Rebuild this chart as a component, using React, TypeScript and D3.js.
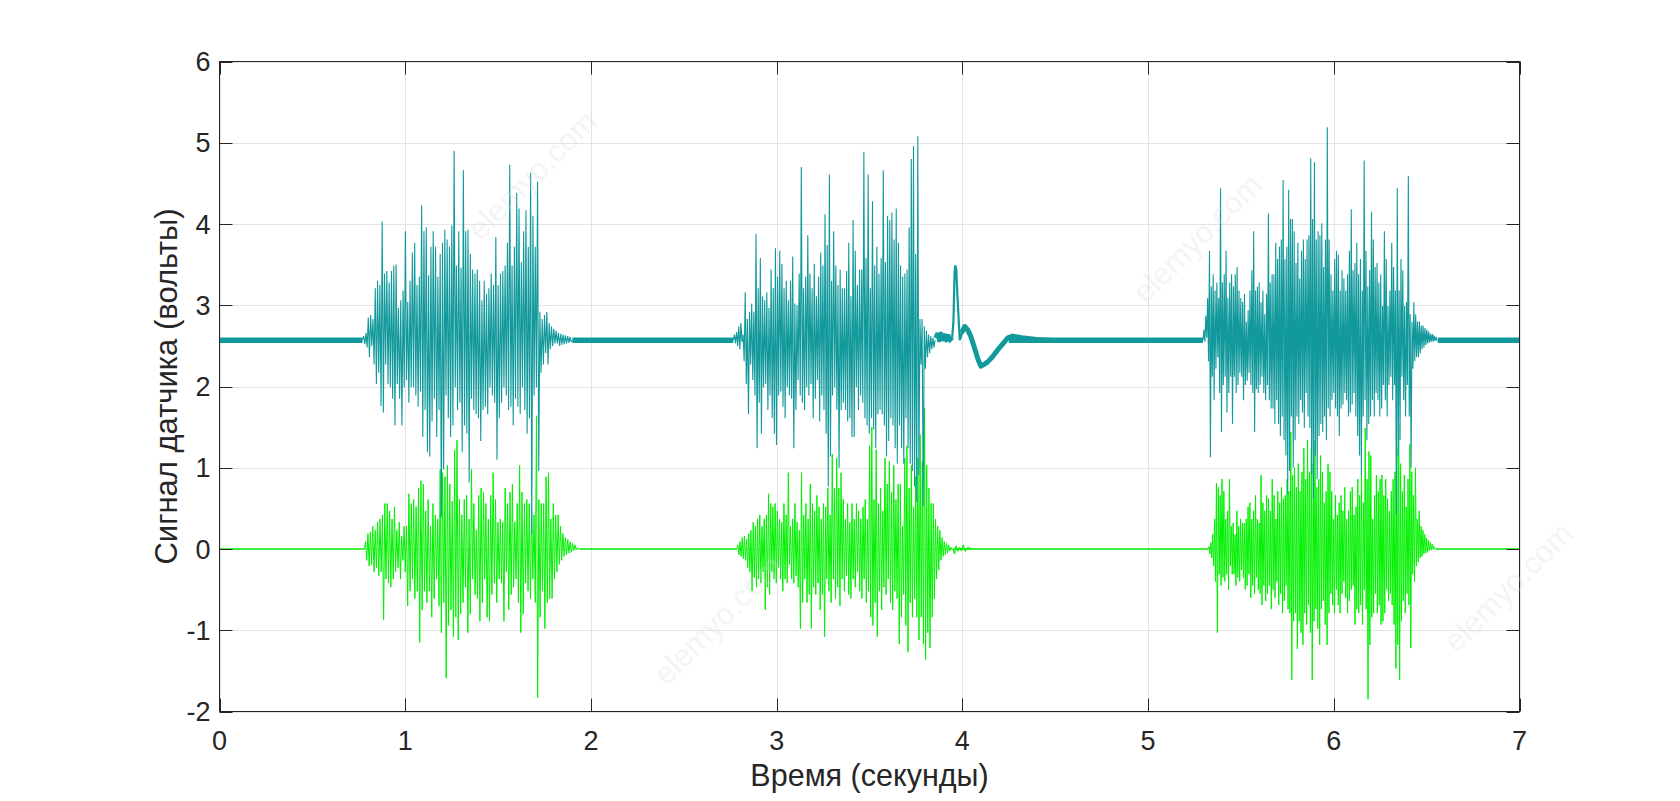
import React from "react";
import * as d3 from "d3";

// ---------- data (volts vs seconds) ----------
const xTicks = [0, 1, 2, 3, 4, 5, 6, 7];
const yTicks = [-2, -1, 0, 1, 2, 3, 4, 5, 6];

const tealRest = 2.57;
const greenRest = 0;

// resting (quiet) stretches of the raw signal, seconds
const tealRestSpans = [[0, 0.77], [1.9, 2.767], [4.25, 5.296], [6.56, 7]];
const greenRestSpans = [[0, 0.78], [1.94, 2.785], [3.95, 5.323], [6.55, 7]];

// burst 1 (raw, teal)
const b1TealSpan = [0.77, 1.9];
const b1TealPeaks = [2.62, 2.66, 2.85, 2.88, 2.83, 3.21, 3.30, 3.25, 4.03, 3.39, 3.42, 3.28, 3.42, 3.49, 3.50, 2.97, 3.06, 3.18, 3.91, 3.04, 3.30, 3.65, 3.77, 3.25, 3.35, 4.23, 3.91, 3.96, 3.37, 3.72, 3.91, 3.72, 3.35, 3.63, 3.77, 3.93, 3.81, 3.72, 3.98, 4.90, 3.49, 3.91, 3.46, 4.66, 3.91, 3.93, 3.63, 3.44, 3.39, 3.44, 3.30, 3.06, 3.30, 3.14, 3.21, 3.39, 3.25, 3.84, 3.25, 3.39, 3.42, 3.49, 3.77, 4.73, 3.49, 3.72, 4.38, 4.19, 3.53, 3.91, 4.17, 3.72, 4.63, 4.10, 3.72, 4.52, 2.92, 2.83, 2.88, 2.92, 2.78, 2.74, 2.71, 2.69, 2.66, 2.65, 2.64, 2.63, 2.62, 2.61];
const b1TealTroughs = [2.52, 2.48, 2.36, 2.50, 2.27, 2.03, 2.17, 1.76, 1.68, 2.27, 2.03, 1.99, 1.85, 1.52, 2.03, 1.85, 1.52, 1.99, 2.08, 1.80, 1.99, 1.99, 1.89, 1.75, 1.94, 1.38, 1.71, 1.19, 1.14, 1.57, 1.85, 1.38, 1.71, 0.39, 0.98, 1.89, 1.61, 1.38, 1.52, 1.99, 1.71, 1.80, 1.19, 1.52, 1.42, 0.82, 1.85, 1.71, 1.66, 1.61, 1.33, 1.71, 1.75, 1.66, 1.99, 1.89, 1.80, 1.10, 1.61, 1.80, 1.99, 1.89, 1.71, 1.75, 1.52, 1.85, 1.75, 1.66, 1.99, 1.71, 1.42, 1.61, 0.18, 1.89, 1.99, 0.96, 2.17, 2.27, 2.41, 2.27, 2.46, 2.50, 2.53, 2.53, 2.50, 2.51, 2.52, 2.53, 2.54, 2.55];

// burst 1 (filtered, green)
const b1GreenSpan = [0.78, 1.94];
const b1GreenPeaks = [0.09, 0.19, 0.21, 0.28, 0.23, 0.33, 0.37, 0.42, 0.56, 0.56, 0.47, 0.37, 0.52, 0.23, 0.33, 0.16, 0.28, 0.28, 0.68, 0.56, 0.61, 0.52, 0.75, 0.84, 0.80, 0.47, 0.61, 0.28, 0.56, 0.42, 0.37, 0.98, 0.94, 0.89, 1.03, 0.80, 0.59, 1.22, 1.34, 0.61, 0.42, 0.61, 0.66, 0.37, 0.98, 0.56, 0.23, 0.66, 0.75, 0.70, 0.56, 0.37, 0.66, 0.94, 0.61, 0.33, 0.37, 0.33, 0.75, 0.56, 0.70, 0.80, 0.33, 0.56, 1.03, 0.70, 0.56, 0.61, 0.56, 0.47, 0.42, 1.64, 0.61, 0.56, 0.56, 0.89, 0.94, 0.37, 0.56, 0.42, 0.42, 0.28, 0.19, 0.14, 0.12, 0.09, 0.07, 0.05, 0.02];
const b1GreenTroughs = [-0.14, -0.21, -0.19, -0.28, -0.23, -0.33, -0.28, -0.87, -0.37, -0.42, -0.47, -0.37, -0.28, -0.23, -0.37, -0.14, -0.28, -0.70, -0.52, -0.37, -0.61, -0.52, -1.15, -0.75, -0.52, -0.66, -0.52, -0.84, -0.61, -0.37, -0.70, -1.03, -0.66, -1.59, -0.94, -0.75, -1.08, -0.84, -1.12, -0.80, -0.66, -0.47, -1.03, -0.80, -0.37, -0.56, -0.61, -0.89, -0.66, -0.37, -0.84, -0.89, -0.56, -0.42, -0.66, -0.37, -0.42, -0.89, -0.28, -0.75, -0.56, -0.47, -0.37, -0.66, -1.03, -0.80, -0.42, -0.52, -0.61, -0.37, -0.66, -1.83, -0.84, -0.52, -0.98, -0.66, -0.61, -0.61, -0.37, -0.28, -0.19, -0.14, -0.09, -0.07, -0.05, -0.04, -0.02, -0.01, 0];

// burst 2 (raw, teal)
const b2TealSpan = [2.767, 3.853];
const b2TealPeaks = [2.64, 2.67, 2.74, 2.78, 2.64, 3.16, 2.83, 2.92, 3.02, 2.92, 3.88, 3.21, 3.58, 3.11, 3.06, 3.16, 2.97, 3.44, 3.21, 3.70, 3.35, 3.67, 3.51, 3.21, 3.30, 3.06, 3.30, 3.60, 3.02, 3.00, 3.39, 4.70, 3.21, 3.35, 3.86, 3.39, 3.21, 3.51, 3.11, 3.35, 3.65, 3.49, 4.12, 3.74, 4.61, 3.30, 3.91, 3.49, 3.25, 3.44, 3.21, 3.21, 3.42, 3.77, 3.11, 4.05, 3.67, 3.25, 3.44, 3.44, 4.89, 3.58, 4.61, 3.21, 4.28, 3.49, 3.72, 3.39, 3.58, 4.66, 3.53, 4.10, 4.05, 4.14, 3.81, 4.19, 3.77, 3.49, 3.35, 3.39, 3.44, 3.96, 4.80, 4.96, 3.63, 5.08, 2.83, 2.83, 2.74, 2.69, 2.64, 2.62, 2.60];
const b2TealTroughs = [2.53, 2.50, 2.46, 2.55, 2.31, 2.03, 1.66, 2.27, 2.08, 1.89, 1.24, 1.80, 1.42, 1.99, 2.03, 1.71, 1.89, 1.61, 1.42, 1.28, 1.89, 1.94, 1.75, 1.61, 1.99, 1.89, 1.85, 1.24, 1.71, 2.08, 1.89, 1.80, 1.71, 1.99, 1.89, 2.03, 1.61, 1.85, 2.08, 1.57, 1.89, 1.71, 1.42, 0.77, 1.14, 1.89, 1.99, 1.71, 1.00, 1.71, 1.80, 1.71, 1.57, 1.61, 1.38, 1.38, 1.99, 1.71, 1.89, 1.80, 1.61, 1.52, 1.42, 1.61, 1.47, 1.24, 1.66, 1.71, 1.66, 1.52, 1.14, 1.33, 1.61, 1.52, 1.24, 1.05, 1.52, 1.24, 1.05, 1.61, 1.24, 1.05, 0.96, 0.77, 0.58, 0.91, 2.27, 0.53, 2.22, 2.36, 2.41, 2.46, 2.48];

// burst 2 (filtered, green)
const b2GreenSpan = [2.785, 3.95];
const b2GreenPeaks = [0.05, 0.09, 0.14, 0.16, 0.12, 0.19, 0.23, 0.33, 0.28, 0.37, 0.42, 0.28, 0.37, 0.42, 0.68, 0.56, 0.52, 0.56, 0.47, 0.37, 0.33, 0.56, 0.42, 0.94, 0.28, 0.37, 0.56, 0.33, 0.23, 0.94, 0.42, 0.56, 0.37, 0.80, 0.56, 0.47, 0.66, 0.52, 0.37, 0.56, 0.52, 0.75, 0.42, 1.17, 0.75, 1.12, 0.75, 0.94, 0.61, 0.37, 0.56, 0.33, 0.56, 0.37, 0.56, 0.47, 0.37, 0.52, 0.61, 0.37, 1.27, 1.50, 0.61, 1.22, 0.56, 0.75, 0.47, 1.12, 0.80, 1.08, 0.70, 1.03, 0.61, 0.80, 0.80, 0.28, 1.12, 1.27, 0.75, 1.03, 0.52, 0.89, 1.12, 1.41, 1.08, 1.73, 1.03, 0.75, 0.56, 0.56, 0.37, 0.28, 0.23, 0.14, 0.09, 0.07, 0.05, 0.02];
const b2GreenTroughs = [-0.07, -0.09, -0.12, -0.14, -0.23, -0.28, -0.52, -0.35, -0.47, -0.37, -0.42, -0.28, -0.75, -0.47, -0.56, -0.28, -0.37, -0.42, -0.23, -0.37, -0.52, -0.37, -0.42, -0.19, -0.37, -0.42, -0.33, -0.47, -0.98, -0.66, -0.37, -0.66, -0.56, -0.98, -0.47, -0.56, -0.42, -0.75, -0.56, -1.08, -0.37, -0.52, -0.66, -0.37, -0.61, -0.47, -0.70, -0.37, -0.52, -0.33, -0.56, -0.61, -0.37, -0.47, -0.28, -0.52, -0.61, -0.37, -0.66, -0.52, -0.84, -0.94, -0.66, -1.08, -0.52, -0.75, -0.47, -0.56, -0.37, -0.66, -0.75, -0.52, -0.61, -1.17, -0.84, -0.56, -0.94, -1.27, -0.66, -0.84, -0.61, -0.84, -1.12, -0.84, -1.17, -1.36, -1.03, -1.22, -0.84, -0.61, -0.37, -0.26, -0.14, -0.09, -0.07, -0.05, -0.02, -0.01, 0];

// movement artefact after burst 2 (raw, teal): [seconds, volts]
const tealTailNoise = [[3.853, 2.60], [3.865, 2.66], [3.875, 2.55], [3.885, 2.67], [3.895, 2.56], [3.905, 2.65], [3.915, 2.55], [3.925, 2.64], [3.935, 2.57], [3.948, 2.60]];
const tealSpike = [[3.945, 2.60], [3.952, 2.80], [3.958, 3.40], [3.962, 3.49], [3.967, 3.44], [3.975, 3.05], [3.986, 2.57], [3.998, 2.66]];
const tealDip = [[3.996, 2.66], [4.013, 2.74], [4.028, 2.70], [4.045, 2.62], [4.066, 2.47], [4.085, 2.33], [4.10, 2.25], [4.115, 2.27], [4.135, 2.30], [4.16, 2.36], [4.19, 2.45], [4.22, 2.53], [4.245, 2.60], [4.27, 2.62], [4.32, 2.60], [4.40, 2.58], [4.47, 2.57]];
const greenArtefact = [[3.95, 0], [3.958, -0.06], [3.966, 0.04], [3.975, -0.03], [3.985, 0.02], [3.995, -0.02], [4.005, 0.05], [4.015, -0.03], [4.03, 0.02], [4.05, 0]];

// burst 3 (raw, teal)
const b3TealSpan = [5.296, 6.56];
const b3TealPeaks = [2.70, 2.87, 3.09, 3.67, 3.23, 3.38, 3.18, 3.28, 3.09, 4.44, 3.28, 3.38, 3.67, 3.09, 3.28, 3.38, 3.23, 3.38, 3.47, 3.18, 3.09, 3.04, 3.14, 2.80, 2.94, 3.18, 3.43, 3.91, 3.18, 3.23, 3.28, 3.04, 3.18, 2.89, 3.14, 4.13, 3.28, 3.38, 3.38, 3.77, 3.57, 3.72, 3.81, 4.54, 3.57, 3.72, 4.42, 4.06, 4.06, 3.91, 3.52, 3.77, 3.33, 3.67, 3.81, 3.57, 3.81, 3.86, 4.81, 4.06, 4.76, 3.81, 3.91, 3.86, 4.01, 3.47, 3.81, 5.19, 3.81, 3.38, 3.18, 3.57, 3.67, 3.62, 3.18, 3.43, 3.33, 3.18, 3.38, 3.67, 4.18, 3.43, 3.52, 3.77, 3.38, 3.57, 3.18, 4.78, 3.67, 3.23, 3.43, 4.15, 3.81, 3.47, 3.52, 3.28, 3.38, 2.99, 3.91, 3.57, 2.99, 3.18, 3.77, 3.47, 3.18, 4.44, 3.18, 3.57, 3.43, 2.99, 3.04, 4.59, 2.89, 2.80, 3.04, 2.89, 2.80, 2.80, 2.75, 2.75, 2.72, 2.70, 2.68, 2.65, 2.65, 2.63, 2.61];
const b3TealTroughs = [2.55, 2.60, 2.31, 1.13, 2.12, 1.83, 2.22, 2.36, 1.92, 1.44, 2.02, 2.12, 1.68, 1.92, 2.12, 1.54, 2.12, 1.92, 2.02, 2.17, 2.12, 1.83, 2.02, 2.07, 2.17, 2.02, 1.92, 1.44, 1.97, 1.92, 2.02, 2.12, 1.92, 1.83, 2.02, 1.83, 1.73, 1.73, 1.54, 1.83, 1.54, 1.39, 1.63, 1.34, 1.15, 0.67, 0.96, 1.63, 1.00, 1.34, 1.63, 1.54, 1.83, 1.68, 1.49, 1.92, 1.63, 1.49, 0.91, 0.62, 1.15, 0.86, 1.39, 1.54, 1.44, 1.63, 1.34, 1.73, 1.63, 1.83, 1.92, 1.73, 1.63, 1.39, 1.73, 1.78, 1.92, 1.83, 1.63, 1.68, 1.78, 1.92, 1.63, 1.39, 1.15, 0.91, 1.63, 1.83, 1.34, 1.54, 1.63, 1.83, 1.63, 1.92, 1.83, 1.63, 1.73, 2.02, 1.83, 1.63, 2.02, 2.12, 1.83, 2.02, 0.42, 1.15, 1.34, 2.12, 1.83, 1.63, 2.02, 1.63, 1.00, 2.22, 2.31, 2.36, 2.36, 2.41, 2.46, 2.48, 2.51, 2.53, 2.54, 2.55, 2.55, 2.56, 2.57];

// burst 3 (filtered, green)
const b3GreenSpan = [5.323, 6.55];
const b3GreenPeaks = [0.03, 0.08, 0.18, 0.37, 0.81, 0.76, 0.66, 0.86, 0.71, 0.37, 0.47, 0.86, 0.28, 0.32, 0.18, 0.47, 0.28, 0.37, 0.32, 0.32, 0.37, 0.52, 0.57, 0.37, 0.47, 0.66, 0.37, 0.32, 0.91, 0.57, 0.47, 0.66, 0.62, 0.47, 0.86, 0.66, 0.37, 0.71, 0.57, 0.76, 0.62, 0.66, 0.86, 0.71, 1.44, 0.91, 1.00, 0.76, 1.05, 0.71, 0.95, 1.24, 0.86, 1.34, 0.95, 1.24, 1.05, 1.34, 0.76, 0.86, 1.15, 0.95, 0.57, 0.71, 1.05, 0.95, 0.71, 0.37, 0.66, 0.42, 0.57, 0.66, 0.47, 0.76, 0.37, 0.47, 0.71, 0.76, 0.42, 0.52, 0.86, 0.66, 0.91, 0.57, 1.49, 0.86, 1.20, 1.15, 0.37, 0.66, 0.91, 0.71, 0.86, 0.91, 0.66, 0.86, 0.62, 0.47, 0.71, 0.86, 0.95, 1.24, 1.53, 1.05, 0.71, 0.91, 0.52, 0.86, 1.29, 0.95, 0.66, 1.00, 0.37, 0.47, 0.28, 0.23, 0.18, 0.13, 0.11, 0.08, 0.06, 0.03, 0.02];
const b3GreenTroughs = [-0.06, -0.11, -0.21, -0.40, -1.03, -0.31, -0.45, -0.35, -0.40, -0.31, -0.50, -0.21, -0.31, -0.31, -0.45, -0.35, -0.40, -0.26, -0.35, -0.50, -0.45, -0.31, -0.60, -0.45, -0.55, -0.35, -0.50, -0.55, -0.69, -0.45, -0.64, -0.55, -0.45, -0.74, -0.50, -0.60, -0.40, -0.69, -0.55, -0.79, -0.64, -0.45, -0.74, -0.79, -1.61, -0.89, -0.79, -1.23, -0.89, -1.03, -1.18, -0.79, -0.93, -0.69, -1.03, -1.61, -0.89, -0.74, -0.98, -1.18, -0.74, -0.64, -0.93, -1.18, -0.79, -0.55, -0.69, -0.79, -0.50, -0.69, -0.79, -0.55, -0.40, -0.60, -0.79, -0.64, -0.50, -0.45, -0.93, -0.74, -0.79, -0.69, -0.93, -0.50, -0.74, -1.85, -1.18, -0.84, -0.79, -0.55, -0.79, -0.69, -0.93, -0.89, -0.79, -0.50, -0.64, -0.55, -0.69, -0.93, -1.47, -1.18, -1.61, -0.89, -0.64, -0.79, -0.55, -0.69, -1.22, -0.31, -0.40, -0.21, -0.16, -0.11, -0.09, -0.06, -0.05, -0.04, -0.02, -0.01, 0, 0];

const watermarkText = "elemyo.com";
const watermarkSpots = [[532, 175], [718, 620], [1197, 238], [1508, 587]];

const xLabel = "Время (секунды)";
const yLabel = "Сигнал датчика (вольты)";

// ---------- helpers ----------
type Pt = [number, number];

function burstPoints(span: number[], peaks: number[], troughs: number[], rest: number): Pt[] {
  const n = Math.min(peaks.length, troughs.length);
  const [t0, t1] = span;
  const step = (t1 - t0) / (2 * n + 1);
  const pts: Pt[] = [[t0, rest]];
  for (let i = 0; i < n; i++) {
    pts.push([t0 + (2 * i + 1) * step, peaks[i]]);
    pts.push([t0 + (2 * i + 2) * step, troughs[i]]);
  }
  pts.push([t1, rest]);
  return pts;
}

const W = 1680;
const H = 801;
const X0 = 219.5;
const X1 = 1519.5;
const Y0 = 61.5;
const Y1 = 711.5;

const TEAL = "#12999c";
const GREEN = "#00f000";
const AXIS = "#262626";
const GRID = "#e4e4e4";
const FONT = "'Liberation Sans', Arial, Helvetica, sans-serif";

export default function App() {
  const x = d3.scaleLinear().domain([0, 7]).range([X0, X1]);
  const y = d3.scaleLinear().domain([-2, 6]).range([Y1, Y0]);
  const line = d3
    .line<Pt>()
    .x((d) => x(d[0]))
    .y((d) => y(d[1]));

  const tealBursts = [
    burstPoints(b1TealSpan, b1TealPeaks, b1TealTroughs, tealRest),
    burstPoints(b2TealSpan, b2TealPeaks, b2TealTroughs, tealRest),
    burstPoints(b3TealSpan, b3TealPeaks, b3TealTroughs, tealRest),
  ];
  const greenBursts = [
    burstPoints(b1GreenSpan, b1GreenPeaks, b1GreenTroughs, greenRest),
    burstPoints(b2GreenSpan, b2GreenPeaks, b2GreenTroughs, greenRest),
    burstPoints(b3GreenSpan, b3GreenPeaks, b3GreenTroughs, greenRest),
  ];

  const tickLen = 13;

  return (
    <svg
      width={W}
      height={H}
      viewBox={`0 0 ${W} ${H}`}
      style={{ position: "absolute", left: 0, top: 0, background: "#fff" }}
      fontFamily={FONT}
    >
      <rect x={0} y={0} width={W} height={H} fill="#fff" />
      <defs>
        <clipPath id="plotClip">
          <rect x={X0} y={Y0} width={X1 - X0} height={Y1 - Y0} />
        </clipPath>
      </defs>

      {/* grid */}
      <g stroke={GRID} strokeWidth={1}>
        {xTicks.map((t) => (
          <line key={"gx" + t} x1={Math.round(x(t)) + 0.5} x2={Math.round(x(t)) + 0.5} y1={Y0} y2={Y1} />
        ))}
        {yTicks.map((t) => (
          <line key={"gy" + t} x1={X0} x2={X1} y1={Math.round(y(t)) + 0.5} y2={Math.round(y(t)) + 0.5} />
        ))}
      </g>

      <g clipPath="url(#plotClip)" fill="none" strokeLinejoin="miter" strokeMiterlimit={2}>
        {/* filtered signal */}
        {greenRestSpans.map((s, i) => (
          <path key={"gr" + i} d={line([[s[0], greenRest], [s[1], greenRest]]) || ""} stroke={GREEN} strokeWidth={1.4} />
        ))}
        <path d={line(greenArtefact as Pt[]) || ""} stroke={GREEN} strokeWidth={1.1} />
        {greenBursts.map((pts, i) => (
          <path key={"gb" + i} d={line(pts) || ""} stroke={GREEN} strokeWidth={1} />
        ))}

        {/* raw signal */}
        {tealRestSpans.map((s, i) => (
          <path key={"tr" + i} d={line([[s[0], tealRest], [s[1], tealRest]]) || ""} stroke={TEAL} strokeWidth={5.5} />
        ))}
        <path d={line(tealTailNoise as Pt[]) || ""} stroke={TEAL} strokeWidth={3.5} />
        <path d={line(tealSpike as Pt[]) || ""} stroke={TEAL} strokeWidth={2.2} />
        <path d={line(tealDip as Pt[]) || ""} stroke={TEAL} strokeWidth={5} strokeLinejoin="round" />
        {tealBursts.map((pts, i) => (
          <path key={"tb" + i} d={line(pts) || ""} stroke={TEAL} strokeWidth={1.1} />
        ))}
      </g>

      {/* box + ticks */}
      <rect x={X0} y={Y0} width={X1 - X0} height={Y1 - Y0} fill="none" stroke={AXIS} strokeWidth={1} />
      <g stroke={AXIS} strokeWidth={1}>
        {xTicks.map((t) => {
          const px = Math.round(x(t)) + 0.5;
          return (
            <g key={"tx" + t}>
              <line x1={px} x2={px} y1={Y1} y2={Y1 - tickLen} />
              <line x1={px} x2={px} y1={Y0} y2={Y0 + tickLen} />
            </g>
          );
        })}
        {yTicks.map((t) => {
          const py = Math.round(y(t)) + 0.5;
          return (
            <g key={"ty" + t}>
              <line x1={X0} x2={X0 + tickLen} y1={py} y2={py} />
              <line x1={X1} x2={X1 - tickLen} y1={py} y2={py} />
            </g>
          );
        })}
      </g>

      {/* tick labels */}
      <g fill={AXIS} fontSize={27}>
        {xTicks.map((t) => (
          <text key={"lx" + t} x={x(t)} y={Y1 + 38} textAnchor="middle">
            {t}
          </text>
        ))}
        {yTicks.map((t) => (
          <text key={"ly" + t} x={X0 - 9} y={y(t) + 9.5} textAnchor="end">
            {t}
          </text>
        ))}
      </g>

      {/* axis titles */}
      <text x={(X0 + X1) / 2} y={786} textAnchor="middle" fontSize={30.5} fill={AXIS}>
        {xLabel}
      </text>
      <text
        transform={`translate(177, ${(Y0 + Y1) / 2}) rotate(-90)`}
        textAnchor="middle"
        fontSize={31}
        fill={AXIS}
      >
        {yLabel}
      </text>

      {/* watermarks */}
      <g fill="#d8d8d8" opacity={0.3} fontSize={31}>
        {watermarkSpots.map((p, i) => (
          <text key={"wm" + i} transform={`translate(${p[0]}, ${p[1]}) rotate(-45)`} textAnchor="middle" dy="0.35em">
            {watermarkText}
          </text>
        ))}
      </g>
    </svg>
  );
}
